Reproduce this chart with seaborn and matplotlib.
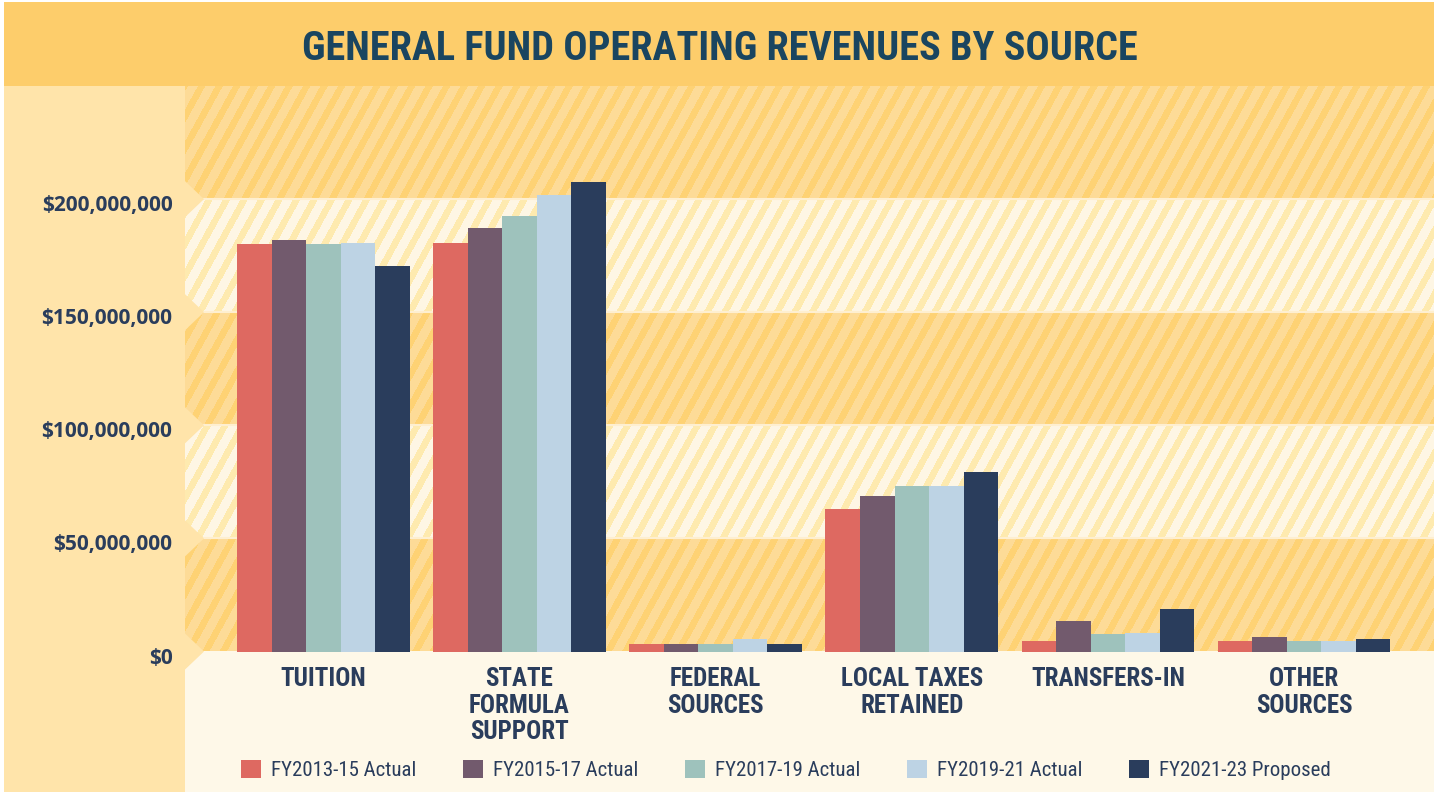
import numpy as np
import pandas as pd
import matplotlib
matplotlib.use("Agg")
import matplotlib.pyplot as plt
import matplotlib.transforms as mtransforms
from matplotlib import font_manager
from matplotlib.patches import Rectangle, Polygon
from matplotlib.colors import to_rgb
from matplotlib.ticker import FuncFormatter
import seaborn as sns

# -------------------------
# Data
# -------------------------
sources = ["TUITION", "STATE\nFORMULA\nSUPPORT", "FEDERAL\nSOURCES",
           "LOCAL TAXES\nRETAINED", "TRANSFERS-IN", "OTHER\nSOURCES"]
years = ["FY2013-15 Actual", "FY2015-17 Actual", "FY2017-19 Actual",
         "FY2019-21 Actual", "FY2021-23 Proposed"]

# values in millions of dollars
fy2013_15 = [180.3, 180.7, 3.3, 62.9, 4.6, 4.6]
fy2015_17 = [182.0, 187.3, 3.3, 68.6, 13.5, 6.4]
fy2017_19 = [180.3, 192.6, 3.3, 73.0, 7.7, 4.6]
fy2019_21 = [180.7, 201.9, 5.5, 73.0, 8.2, 4.6]
fy2021_23 = [170.6, 207.6, 3.3, 79.3, 18.8, 5.5]

colors = ["#DE6961", "#725A6D", "#9EC2BC", "#BDD3E4", "#2A3D5C"]

series = [fy2013_15, fy2015_17, fy2017_19, fy2019_21, fy2021_23]
rows = []
for year, vals in zip(years, series):
    for src, v in zip(sources, vals):
        rows.append({"source": src, "year": year, "value": v * 1e6})
df = pd.DataFrame(rows)


# fonts
def has_font(name):
    try:
        font_manager.findfont(font_manager.FontProperties(family=name),
                              fallback_to_default=False)
        return True
    except Exception:
        return False


narrow = "Roboto"
for cand in ["Liberation Sans Narrow", "Roboto Condensed", "Open Sans Condensed"]:
    if has_font(cand):
        narrow = cand
        break
print("narrow font:", narrow)
NAVY = "#2A3D5C"

W, H = 1434, 792
fig = plt.figure(figsize=(W / 100, H / 100), dpi=100, facecolor="white")


def box(x0, y0, x1, y1, color, z=-5):
    fig.add_artist(Rectangle((x0 / W, 1 - y1 / H), (x1 - x0) / W, (y1 - y0) / H,
                             transform=fig.transFigure, facecolor=color,
                             edgecolor="none", zorder=z))


# background panels
box(4, 2, W, 87, "#FDCD6B")        # title band
box(4, 86, 186, H, "#FFE4AA")      # left panel
box(185, 651, W, H, "#FEF8E8")     # bottom cream area

fig.text(720 / W, 1 - 49 / H, "GENERAL FUND OPERATING REVENUES BY SOURCE",
         ha="center", va="center", fontsize=29, fontweight="bold",
         color="#1A4560", family=[narrow, "DejaVu Sans"])

# -------------------------
# Main axes
# -------------------------
ax_top, ax_bot, ax_left = 86, 651.5, 185
ax = fig.add_axes([ax_left / W, (H - ax_bot) / H, (W - ax_left) / W, (ax_bot - ax_top) / H])
ax.patch.set_alpha(0)

sns.barplot(data=df, x="source", y="value", hue="year", palette=colors,
            width=0.88, gap=0, saturation=1, errorbar=None, linewidth=0,
            zorder=3, ax=ax)

xlim = (-0.706, 5.663)
ylim = (0, 250e6)

# striped bands background
Hp, Wp = int(round(ax_bot - ax_top)), W - ax_left
yy, xx = np.mgrid[0:Hp, 0:Wp]
vals = ylim[1] * (1 - (yy + 0.5) / Hp)
orange = (vals // 50e6).astype(int) % 2 == 0
stripe = ((xx + ax_left + 0.55 * (yy + ax_top)) % 17.5) < 7.5
img = np.zeros((Hp, Wp, 3))
for mask, col in [(orange & ~stripe, "#FDDB97"), (orange & stripe, "#FED274"),
                  (~orange & ~stripe, "#FEF6E4"), (~orange & stripe, "#FEEAAF")]:
    img[mask] = to_rgb(col)
ax.imshow(img, extent=(xlim[0], xlim[1], ylim[0], ylim[1]), aspect="auto",
          interpolation="nearest", zorder=0)
for v in [50e6, 100e6, 150e6, 200e6]:
    ax.axhline(v, color="#FEEFD0", lw=1.5, zorder=1)

ax.set_xlim(*xlim)
ax.set_ylim(*ylim)

# arrow notches of the left panel
for v in [0, 50e6, 100e6, 150e6, 200e6]:
    yc = ax_bot - (ax_bot - ax_top) * v / ylim[1]
    pts = [((ax_left - 1) / W, 1 - (yc - 19) / H), (204 / W, 1 - yc / H),
           ((ax_left - 1) / W, 1 - (yc + 19) / H)]
    fig.add_artist(Polygon(pts, closed=True, transform=fig.transFigure,
                           facecolor="#FFE4AA", edgecolor="none", zorder=4))

for s in ax.spines.values():
    s.set_visible(False)
ax.set_xlabel("")
ax.set_ylabel("")
ax.set_yticks(np.arange(0, 250e6, 50e6))
ax.yaxis.set_major_formatter(FuncFormatter(lambda v, p: f"${v:,.0f}"))
ax.tick_params(length=0)
ax.tick_params(axis="y", pad=9)
ax.tick_params(axis="x", pad=11.5)

for lab in ax.get_yticklabels():
    lab.set_fontfamily(["Open Sans", "DejaVu Sans"])
    lab.set_fontweight("bold")
    lab.set_fontsize(15)
    lab.set_color(NAVY)
offset = mtransforms.ScaledTranslation(0, -4 / 100, fig.dpi_scale_trans)
for t in ax.yaxis.get_major_ticks():
    t.label1.set_transform(t.label1.get_transform() + offset)

for lab in ax.get_xticklabels():
    lab.set_fontfamily([narrow, "DejaVu Sans"])
    lab.set_fontweight("bold")
    lab.set_fontsize(18)
    lab.set_color(NAVY)
    lab.set_linespacing(1.13)

# legend
leg = ax.get_legend()
handles = leg.legend_handles
labels = [t.get_text() for t in leg.texts]
leg.remove()
fig.legend(handles, labels, loc="center", bbox_to_anchor=(786 / W, 1 - 770 / H),
           ncol=5, frameon=False, handlelength=0.96, handleheight=0.96,
           handletextpad=0.48, columnspacing=2.25, labelcolor=NAVY,
           prop={"family": [narrow, "DejaVu Sans"], "size": 15})

plt.savefig("out.png", dpi=100, facecolor=fig.get_facecolor())
